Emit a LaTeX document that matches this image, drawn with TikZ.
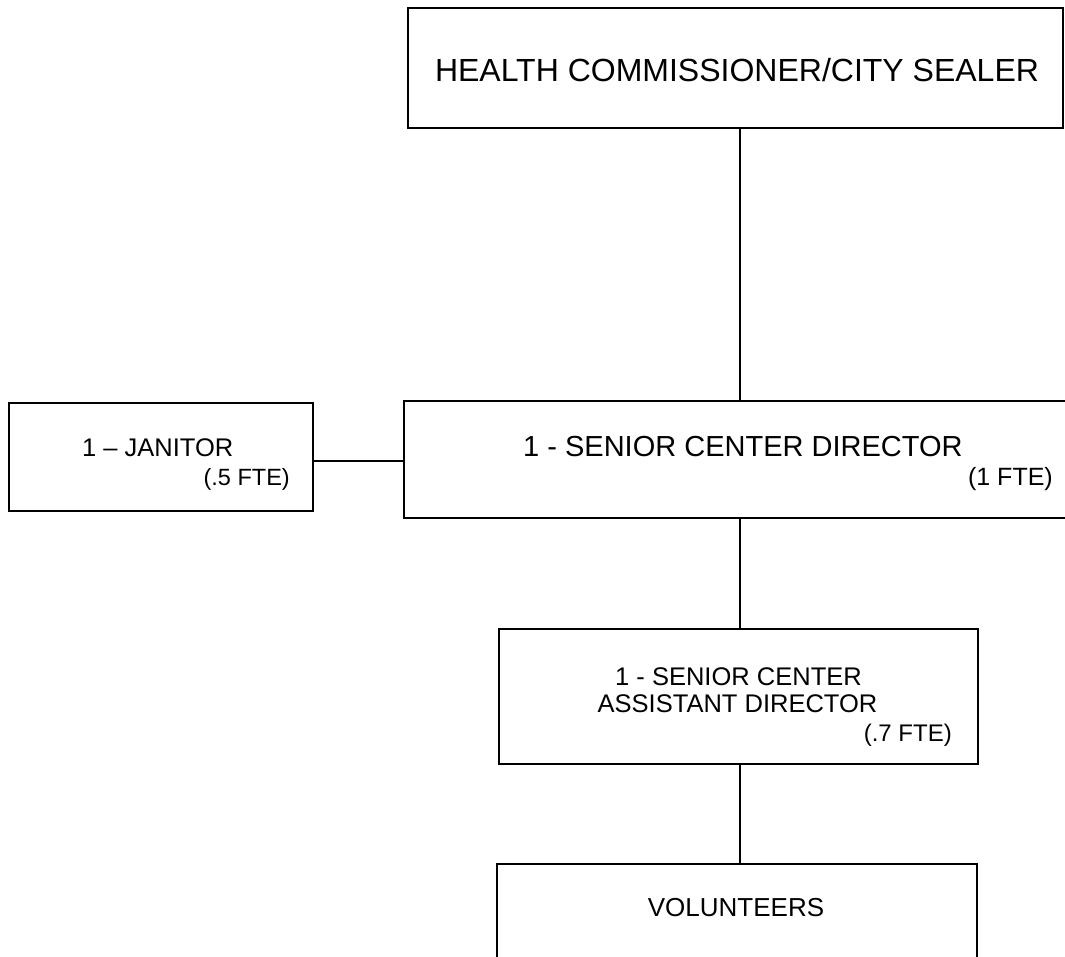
\documentclass[tikz,border=0pt]{standalone}
\usepackage{fontspec}
\setmainfont{Liberation Sans}
\tikzset{
  orgbox/.style={draw=black, line width=1.4pt, rectangle, inner sep=0pt},
  conn/.style={draw=black, line width=1.4pt},
  lbl/.style={inner sep=0pt, text=black},
}
\newcommand{\fs}[1]{\fontsize{#1}{1.15\dimexpr #1pt\relax}\selectfont}
\begin{document}
\begin{tikzpicture}[x=1pt,y=-1pt]
\clip (0,0) rectangle (1065,956);
\fill[white] (0,0) rectangle (1065,956);
% boxes
\node[orgbox, minimum width=655pt, minimum height=120pt] (top) at (735.5,68) {};
\node[orgbox, minimum width=671pt, minimum height=117pt] (dir) at (739.5,459.5) {};
\node[orgbox, minimum width=304pt, minimum height=108pt] (jan) at (161,457) {};
\node[orgbox, minimum width=479pt, minimum height=135pt] (ast) at (738.5,696.5) {};
\node[orgbox, minimum width=480pt, minimum height=126pt] (vol) at (737,927) {};
% texts
\node[lbl, anchor=base, font=\fs{32}] (toptxt) at (737,81) {HEALTH COMMISSIONER/CITY SEALER};
\node[lbl, anchor=base west, font=\fs{29}] (dirtxt) at (523,456) {1 - SENIOR CENTER DIRECTOR};
\node[lbl, anchor=base east, font=\fs{25}] (dirfte) at (1053,485) {(1 FTE)};
\node[lbl, anchor=base west, font=\fs{25.5}] (jantxt) at (82,456) {1 – JANITOR};
\node[lbl, anchor=base east, font=\fs{23.5}] (janfte) at (290,485) {(.5 FTE)};
\node[lbl, anchor=base, font=\fs{25.5}] (asttxta) at (738.5,685) {1 - SENIOR CENTER};
\node[lbl, anchor=base, font=\fs{25.5}] (asttxtb) at (737.5,712) {ASSISTANT DIRECTOR};
\node[lbl, anchor=base east, font=\fs{24}] (astfte) at (952,741.5) {(.7 FTE)};
\node[lbl, anchor=base, font=\fs{26}] (voltxt) at (736,916) {VOLUNTEERS};
% connectors
\coordinate (vxa) at (740,0);
\coordinate (vxb) at (740,0);
\coordinate (hy) at (0,461);
\draw[conn] (top.south -| vxa) -- (dir.north -| vxa);
\draw[conn] (dir.south -| vxb) -- (ast.north -| vxb);
\draw[conn] (ast.south -| vxb) -- (vol.north -| vxb);
\draw[conn] (jan.east |- hy) -- (dir.west |- hy);
\end{tikzpicture}
\end{document}
